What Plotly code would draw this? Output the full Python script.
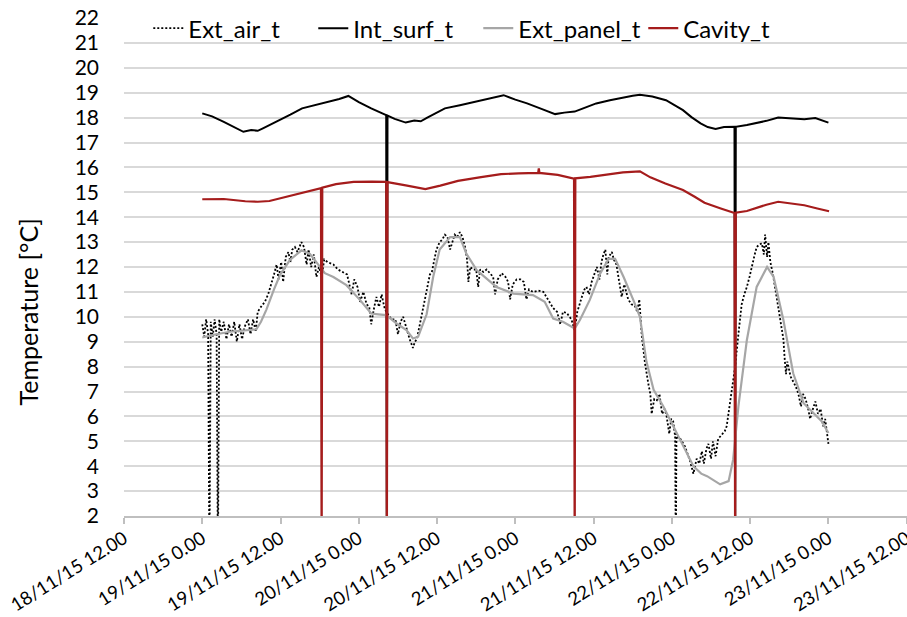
import pandas as pd
import plotly.graph_objects as go

# ---- data (hours after 18/11/15 12:00, temperatures in °C) ----
BASE = "2015-11-18 12:00"

air_h = [12.0, 12.3, 12.6, 12.9, 13.1, 13.3, 13.6, 13.9, 14.2, 14.4, 14.6, 14.9, 15.3, 15.7, 16.1, 16.5, 16.9,
         17.3, 17.7, 18.1, 18.5, 19.0, 19.4, 19.8, 20.2, 20.5, 21.0, 21.6, 22.1, 22.6, 23.0, 23.4, 23.7, 24.1,
         24.4, 24.8, 25.2, 25.5, 25.8, 26.2, 26.6, 27.2, 27.6, 28.0, 28.3, 28.7, 29.1, 29.5, 29.9, 30.3, 30.7,
         31.2, 32.1, 32.8, 33.6, 34.2, 34.9, 35.3, 35.8, 36.2, 36.7, 37.2, 37.6, 37.9, 38.3, 38.7, 39.1, 39.5,
         39.9, 40.2, 41.0, 41.6, 42.0, 42.4, 42.8, 43.1, 43.5, 43.8, 44.3, 44.6, 44.9, 45.3, 45.6, 46.0, 46.4,
         46.9, 47.2, 47.6, 47.9, 48.4, 48.8, 49.2, 49.6, 50.0, 50.3, 50.7, 51.1, 51.5, 51.9, 52.3, 52.6, 52.8,
         53.1, 53.5, 54.0, 54.3, 54.6, 55.1, 55.6, 56.2, 56.6, 56.9, 57.3, 57.9, 58.5, 58.9, 59.2, 59.6, 60.2,
         60.8, 61.3, 61.7, 62.1, 62.7, 63.5, 64.3, 65.0, 65.8, 66.4, 66.9, 67.3, 67.9, 68.3, 68.6, 69.1, 69.5,
         70.2, 70.6, 70.9, 71.3, 71.7, 72.0, 72.5, 72.9, 73.2, 73.5, 73.8, 74.1, 74.3, 74.8, 75.1, 75.5, 75.9,
         76.3, 76.7, 77.3, 77.8, 78.3, 78.7, 79.0, 79.4, 79.9, 80.4, 80.7, 80.9, 81.3, 81.7, 82.1, 82.5, 82.9,
         83.2, 83.6, 83.9, 84.2, 84.5, 84.6, 84.7, 85.0, 85.3, 85.7, 86.0, 86.4, 86.8, 87.3, 87.8, 88.2, 88.6,
         88.9, 89.3, 89.6, 90.0, 90.3, 90.7, 91.1, 91.7, 92.1, 92.4, 92.8, 93.2, 93.7, 94.2, 94.7, 95.1, 95.5,
         95.9, 96.3, 96.7, 97.0, 97.4, 97.8, 98.1, 98.3, 98.6, 98.8, 99.1, 99.5, 99.8, 100.2, 100.6, 101.1,
         101.3, 101.5, 101.7, 102.2, 102.6, 103.0, 103.4, 103.8, 104.1, 104.5, 104.9, 105.2, 105.5, 106.0,
         106.4, 106.8, 107.2, 107.5, 107.8, 108.0]
air_v = [9.7, 9.2, 9.9, 9.3, 0, 9.8, 9.2, 9.9, 9.3, 0, 9.9, 9.4, 9.8, 9.1, 9.7, 9.2, 9.8,
         9.0, 9.7, 9.1, 9.6, 9.9, 9.3, 9.9, 9.4, 10.2, 10.4, 10.6, 10.9, 11.3, 11.7, 12.1, 11.5, 12.2,
         11.4, 12.4, 12.6, 12.2, 12.7, 12.8, 12.6, 13.0, 12.8, 12.1, 12.7, 12.0, 12.5, 11.6, 12.0, 11.6, 12.3,
         12.2, 12.1, 11.9, 11.8, 11.7, 10.9, 11.5, 11.2, 10.6, 11.0, 10.5, 10.4, 9.7, 10.3, 10.8, 10.4, 10.9,
         10.4, 10.2, 9.9, 9.9, 9.3, 9.8, 10.0, 9.7, 9.4, 9.1, 8.75, 9.0, 9.1, 9.6, 10.1, 10.5, 11.0,
         11.7, 11.8, 12.3, 12.7, 13.0, 13.1, 13.3, 13.2, 12.7, 13.0, 13.3, 13.2, 13.4, 13.2, 12.8, 12.3, 11.4,
         12.0, 11.9, 11.9, 11.2, 11.9, 11.8, 11.9, 11.7, 11.6, 10.9, 11.5, 11.75, 11.6, 11.4, 10.7, 11.3, 11.5,
         11.5, 11.4, 10.7, 11.1, 11.0, 11.05, 11.0, 10.7, 10.35, 10.2, 9.7, 10.2, 10.15, 10.0, 9.9, 9.45, 10.2,
         10.8, 11.1, 11.2, 10.9, 11.4, 11.6, 12.0, 11.5, 12.2, 12.5, 12.7, 11.7, 12.4, 12.6, 12.3, 12.1, 11.5,
         10.8, 11.3, 10.7, 10.5, 10.45, 10.2, 10.7, 9.2, 8.1, 7.3, 6.9, 6.1, 6.7, 6.65, 6.9, 6.1, 6.3,
         6.0, 5.3, 5.9, 5.8, 5.2, 0, 5.3, 5.1, 5.1, 4.9, 4.8, 4.5, 4.2, 3.7, 4.3, 4.1, 4.6,
         4.1, 4.7, 4.9, 4.3, 5.0, 4.4, 5.1, 5.3, 5.4, 5.6, 6.3, 7.0, 8.0, 9.3, 10.5, 10.9, 11.2,
         11.6, 12.1, 12.5, 12.8, 12.9, 12.95, 12.5, 13.3, 12.4, 13.0, 12.2, 11.7, 11.2, 10.6, 10.0, 9.1,
         8.3, 7.7, 8.2, 7.6, 7.4, 7.2, 6.9, 6.4, 6.9, 6.7, 6.3, 5.9, 6.2, 6.6,
         6.1, 6.3, 5.6, 5.9, 5.3, 4.9]

surf_h = [12.0, 13.5, 15.3, 16.8, 18.3, 19.5, 20.5, 21.3, 22.5, 24.0, 25.5, 27.3, 29.0, 31.3, 33.0, 34.4,
          36.0, 37.9, 39.3, 40.2, 40.3, 40.4, 41.5, 43.2, 44.5, 45.5, 46.5, 48.0, 49.2, 51.5, 53.8, 56.0,
          58.2, 60.0, 61.8, 64.0, 66.1, 67.5, 69.1, 70.5, 72.4, 74.5, 76.4, 78.0, 79.1, 81.0, 83.1, 84.5,
          85.7, 87.0, 88.4, 89.5, 90.7, 92.0, 93.6, 93.7, 93.8, 95.5, 97.0, 98.5, 100.3, 102.0, 104.3,
          106.0, 107.0, 108.0]
surf_v = [18.17, 18.05, 17.83, 17.62, 17.43, 17.5, 17.47, 17.57, 17.72, 17.9, 18.12, 18.37, 18.48, 18.64,
          18.75, 18.87, 18.62, 18.37, 18.2, 18.1, 0, 18.08, 17.95, 17.8, 17.88, 17.85, 18.0, 18.2, 18.37,
          18.5, 18.64, 18.76, 18.9, 18.72, 18.57, 18.35, 18.14, 18.2, 18.24, 18.38, 18.57, 18.7, 18.81,
          18.88, 18.92, 18.85, 18.7, 18.5, 18.3, 18.02, 17.77, 17.62, 17.54, 17.62, 17.63, 0, 17.63, 17.7,
          17.77, 17.87, 18.0, 17.97, 17.93, 17.98, 17.9, 17.8]

panel_h = [12.0, 13.6, 16.2, 18.5, 20.3, 21.0, 21.8, 23.0, 23.9, 25.4, 27.2, 28.5, 30.0, 30.8, 32.1, 34.1,
           36.2, 37.9, 39.0, 40.2, 41.8, 43.3, 44.3, 45.1, 46.4, 47.4, 48.4, 50.0, 51.5, 52.5, 54.1, 57.1,
           59.7, 62.7, 64.5, 65.8, 67.3, 69.1, 69.9, 71.4, 73.0, 74.3, 75.3, 76.6, 78.1, 79.1, 80.1, 81.2,
           82.7, 84.2, 85.8, 87.3, 88.5, 89.4, 91.4, 92.7, 93.4, 94.2, 95.5, 97.0, 98.6, 99.6, 101.1, 102.6,
           104.2, 105.7, 107.0, 108.0]
panel_v = [9.17, 9.27, 9.4, 9.45, 9.5, 9.8, 10.27, 11.1, 11.67, 12.27, 12.67, 12.53, 12.0, 11.75, 11.6,
           11.27, 10.67, 10.13, 10.1, 10.07, 9.73, 9.47, 9.13, 9.2, 10.1, 11.6, 12.7, 13.2, 13.2, 12.53,
           11.87, 11.2, 10.93, 10.87, 10.6, 9.93, 9.8, 9.53, 9.87, 10.67, 11.73, 12.33, 12.33, 11.6, 10.67,
           10.0, 8.2, 7.07, 6.4, 5.6, 4.8, 4.0, 3.7, 3.6, 3.27, 3.4, 4.27, 6.4, 9.07, 11.2, 12.0, 11.6, 9.87,
           7.73, 6.53, 6.13, 5.8, 5.33]

cav_h = [12.0, 15.3, 18.6, 20.5, 22.3, 24.5, 26.6, 28.5, 30.2, 30.3, 30.4, 32.5, 35.2, 38.0, 40.2, 40.3,
         40.4, 43.2, 46.2, 48.5, 51.2, 54.5, 57.8, 60.5, 63.5, 63.6, 63.7, 66.5, 69.0, 69.1, 69.2, 71.5,
         73.7, 76.5, 79.1, 80.7, 83.0, 85.7, 87.5, 89.0, 91.5, 93.6, 93.7, 93.8, 95.5, 97.0, 98.5, 100.3,
         102.3, 104.3, 106.3, 108.1]
cav_v = [14.72, 14.73, 14.64, 14.62, 14.65, 14.8, 14.95, 15.08, 15.17, 0, 15.19, 15.33, 15.42, 15.43,
         15.42, 0, 15.41, 15.28, 15.13, 15.27, 15.46, 15.6, 15.73, 15.76, 15.78, 15.96, 15.78, 15.7, 15.55,
         0, 15.56, 15.62, 15.69, 15.8, 15.84, 15.6, 15.35, 15.09, 14.82, 14.58, 14.35, 14.17, 0, 14.18,
         14.25, 14.38, 14.5, 14.62, 14.56, 14.48, 14.35, 14.24]

tick_h = [0, 12, 24, 36, 48, 60, 72, 84, 96, 108, 120]
tick_text = ["18/11/15 12.00", "19/11/15 0.00", "19/11/15 12.00", "20/11/15 0.00", "20/11/15 12.00",
             "21/11/15 0.00", "21/11/15 12.00", "22/11/15 0.00", "22/11/15 12.00", "23/11/15 0.00",
             "23/11/15 12.00"]
y_ticks = list(range(2, 23))
x_range_h = [0, 120.05]


def to_time(hours):
    return pd.Timestamp(BASE) + pd.to_timedelta(hours, unit="h")


FONT = "Lato"
fig = go.Figure()
fig.add_trace(go.Scatter(x=to_time(air_h), y=air_v, name="Ext_air_t", mode="lines",
                         line=dict(color="black", width=1.8, dash="2px,2px")))
fig.add_trace(go.Scatter(x=to_time(surf_h), y=surf_v, name="Int_surf_t", mode="lines",
                         line=dict(color="black", width=2)))
fig.add_trace(go.Scatter(x=to_time(panel_h), y=panel_v, name="Ext_panel_t", mode="lines",
                         line=dict(color="#A6A6A6", width=2.2)))
fig.add_trace(go.Scatter(x=to_time(cav_h), y=cav_v, name="Cavity_t", mode="lines",
                         line=dict(color="#A51C1C", width=2.2)))

xr = [to_time(x_range_h[0]), to_time(x_range_h[1])]
fig.update_layout(
    width=907, height=617,
    margin=dict(l=124, r=0, t=18, b=101),
    paper_bgcolor="white", plot_bgcolor="white",
    font=dict(family=FONT, size=21, color="black"),
    showlegend=True,
    legend=dict(orientation="h", x=0.031, y=1.024, xanchor="left", yanchor="top",
                bgcolor="rgba(255,255,255,0)", font=dict(size=24), itemwidth=30,
                entrywidth=120, tracegroupgap=0),
    xaxis=dict(type="date", range=xr, tickvals=to_time(tick_h), ticktext=tick_text,
               tickangle=-32, showgrid=False, showline=True, linecolor="#BFBFBF", linewidth=1.5,
               ticks="outside", ticklen=6, tickcolor="#BFBFBF", tickwidth=1.5,
               tickfont=dict(size=18.5), zeroline=False, automargin=False,
               ticklabeloverflow="allow", ticklabelstandoff=-3),
    xaxis2=dict(type="date", range=xr, overlaying="x", anchor="y", side="bottom",
                tickvals=to_time(tick_h), showticklabels=False, showgrid=False, automargin=False,
                ticks="inside", ticklen=6, tickcolor="#BFBFBF", tickwidth=1.5, zeroline=False),
    yaxis=dict(range=[2, 22], tickvals=y_ticks, showgrid=True, gridcolor="#D9D9D9", gridwidth=1.5,
               showline=False, zeroline=False, ticks="", ticklabelstandoff=24,
               tickfont=dict(size=21), automargin=False, ticklabeloverflow="allow"),
    annotations=[dict(text="Temperature [°C]", textangle=-90, xref="paper", yref="paper",
                      x=-0.123, y=0.41, xanchor="center", yanchor="middle", showarrow=False,
                      font=dict(size=25))],
)
fig.write_html("out.html")
